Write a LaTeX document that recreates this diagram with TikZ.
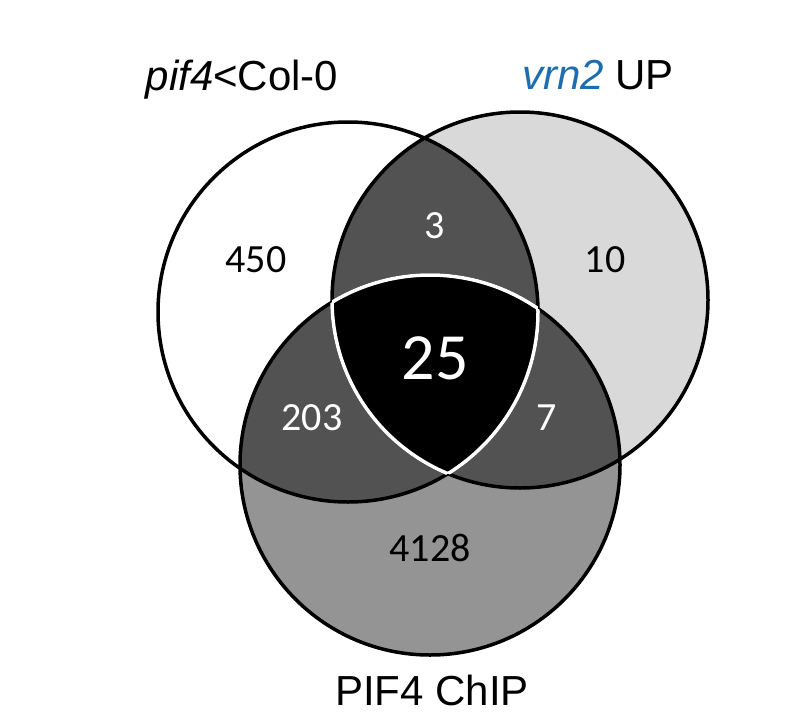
\documentclass[tikz,border=0pt]{standalone}
\usepackage{fontspec}
\setmainfont{Liberation Sans}
\newfontfamily\numfont{Carlito}
\begin{document}
\begin{tikzpicture}[x=1pt,y=-1pt,
  num/.style={font=\numfont\fontsize{40}{44}\selectfont},
  ttl/.style={font=\fontsize{42}{48}\selectfont}]
\useasboundingbox (0,0) rectangle (797,725);
\def\cA{(348,312) circle (190)}
\def\cB{(520,300) circle (188)}
\def\cC{(430,465) circle (190)}
\fill[black!15] \cB;
\fill[black!42] \cC;
\begin{scope}\clip \cA; \fill[black!68] \cB; \fill[black!68] \cC; \end{scope}
\begin{scope}\clip \cB; \fill[black!68] \cC; \end{scope}
\begin{scope}\clip \cA; \clip \cB; \fill[black] \cC; \end{scope}
\draw[line width=3.5pt] \cA \cB \cC;
\begin{scope}\clip \cB; \clip \cC; \draw[white,line width=3.5pt] \cA; \end{scope}
\begin{scope}\clip \cA; \clip \cC; \draw[white,line width=3.5pt] \cB; \end{scope}
\begin{scope}\clip \cA; \clip \cB; \draw[white,line width=3.5pt] \cC; \end{scope}
\node[num] (n450) at (256,260) {450};
\node[num,white] (n3) at (435,226) {3};
\node[num] (n10) at (605,260) {10};
\node[num,white,font=\numfont\fontsize{66}{70}\selectfont] (n25) at (435,358) {25};
\node[num,white] (n203) at (312,418) {203};
\node[num,white] (n7) at (547,418) {7};
\node[num] (n4128) at (430,548) {4128};
\node[ttl] (tA) at (242,80) {\textit{pif4}<Col-0};
\node[ttl] (tB) at (598,75) {\textcolor[RGB]{30,110,175}{\textit{vrn2}} UP};
\node[ttl] (tC) at (432,690) {PIF4 ChIP};
\end{tikzpicture}
\end{document}
